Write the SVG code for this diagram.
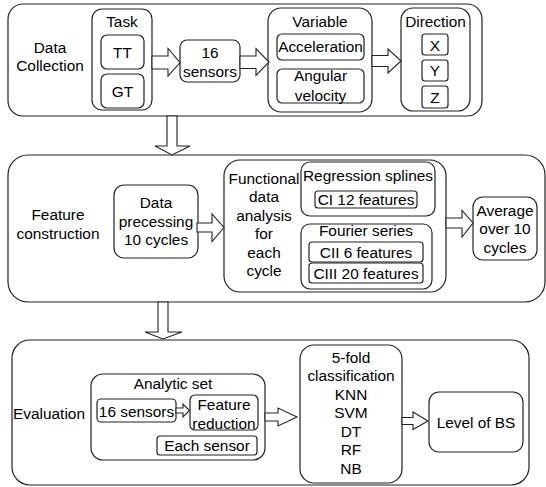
<svg xmlns="http://www.w3.org/2000/svg" width="546" height="487" viewBox="0 0 546 487">
<style>
rect{fill:#fff;stroke:#222;stroke-width:1.2}
.ar{fill:#fff;stroke:#222;stroke-width:1.1;stroke-linejoin:miter}
text{font-family:"Liberation Sans",Arial,sans-serif;font-size:15.4px;fill:#000;text-anchor:middle}
</style>
<rect width="546" height="487" style="fill:#fff;stroke:none"/>
<g id="panel-data-collection">
<rect x="8" y="4" width="474" height="112" rx="15"/>
<text x="50" y="52.5">Data</text>
<text x="50" y="70.5">Collection</text>
</g>
<g id="task">
<rect x="92" y="9" width="60" height="101" rx="10"/>
<text x="122" y="27">Task</text>
</g>
<g id="tt"><rect x="101" y="35" width="43" height="34" rx="6"/><text x="122.5" y="57.5">TT</text></g>
<g id="gt"><rect x="101" y="74" width="43" height="34" rx="6"/><text x="122.5" y="96.5">GT</text></g>
<g id="sensors16"><rect x="180" y="40" width="60" height="42" rx="7"/><text x="210" y="57.5">16</text><text x="210" y="76.5">sensors</text></g>
<g id="variable">
<rect x="268" y="8" width="104" height="104" rx="13"/>
<text x="320" y="26.5">Variable</text>
</g>
<g id="acceleration"><rect x="277" y="34" width="87" height="26" rx="5"/><text x="320.5" y="51.5">Acceleration</text></g>
<g id="angular"><rect x="277" y="69" width="87" height="34" rx="5"/><text x="320.5" y="80.5">Angular</text><text x="320.5" y="100.5">velocity</text></g>
<g id="direction">
<rect x="401" y="8" width="69" height="103" rx="12"/>
<text x="435.5" y="26.5">Direction</text>
</g>
<g id="dx"><rect x="422" y="34" width="26" height="21" rx="3"/><text x="435" y="50.5">X</text></g>
<g id="dy"><rect x="422" y="60" width="26" height="21" rx="3"/><text x="435" y="76">Y</text></g>
<g id="dz"><rect x="422" y="86" width="26" height="22" rx="3"/><text x="435" y="102.5">Z</text></g>

<g id="panel-feature-construction">
<rect x="8" y="155" width="537" height="147" rx="20"/>
<text x="58" y="219.5">Feature</text>
<text x="58" y="238.5">construction</text>
</g>
<g id="data-precessing"><rect x="114" y="185" width="84" height="73" rx="10"/>
<text x="156" y="208">Data</text><text x="156" y="226.5">precessing</text><text x="156" y="245">10 cycles</text></g>
<g id="functional"><rect x="224" y="160" width="222" height="132" rx="16"/>
<text x="264" y="183.5">Functional</text><text x="264" y="202">data</text><text x="264" y="220.5">analysis</text><text x="264" y="239">for</text><text x="264" y="257.5">each</text><text x="264" y="276">cycle</text></g>
<g id="regression"><rect x="301" y="162" width="134" height="54" rx="9"/><text x="368" y="180.5">Regression splines</text></g>
<g id="ci"><rect x="315" y="191" width="102" height="17" rx="3"/><text x="366" y="204.5">CI 12 features</text></g>
<g id="fourier"><rect x="301" y="224" width="131" height="65" rx="9"/><text x="366" y="235.5">Fourier series</text></g>
<g id="cii"><rect x="309" y="242" width="114" height="20" rx="3"/><text x="366" y="257.5">CII 6 features</text></g>
<g id="ciii"><rect x="309" y="263" width="114" height="20" rx="3"/><text x="366" y="278.5">CIII 20 features</text></g>
<g id="average"><rect x="473" y="197" width="64" height="63" rx="10"/>
<text x="505" y="215.5">Average</text><text x="505" y="233.5">over 10</text><text x="505" y="252.5">cycles</text></g>

<g id="panel-evaluation">
<rect x="12" y="340" width="517" height="145" rx="18"/>
<text x="49" y="418.5">Evaluation</text>
</g>
<g id="analytic-set"><rect x="91" y="374" width="174" height="86" rx="12"/><text x="173" y="388.5">Analytic set</text></g>
<g id="eval-sensors"><rect x="97" y="399" width="79" height="23" rx="4"/><text x="136.5" y="416.5">16 sensors</text></g>
<g id="feature-reduction"><rect x="190" y="395" width="68" height="35" rx="5"/><text x="224" y="409.5">Feature</text><text x="224" y="428.5">reduction</text></g>
<g id="each-sensor"><rect x="157" y="436" width="100" height="19" rx="3"/><text x="207" y="451">Each sensor</text></g>
<g id="classification"><rect x="300" y="345" width="102" height="138" rx="14"/>
<text x="351" y="362.5">5-fold</text><text x="351" y="381">classification</text><text x="351" y="399.5">KNN</text><text x="351" y="418">SVM</text><text x="351" y="436.5">DT</text><text x="351" y="455">RF</text><text x="351" y="473.5">NB</text></g>
<g id="level-bs"><rect x="429" y="392" width="94" height="60" rx="10"/><text x="476" y="427.5">Level of BS</text></g>

<g id="connectors">
<polygon class="ar" points="152,56 168,56 168,48.5 180,62.5 168,76 168,69 152,69"/>
<polygon class="ar" points="240,56 256,56 256,48.5 269,62 256,75.5 256,68.5 240,68.5"/>
<polygon class="ar" points="372,55.5 388,55.5 388,49 401,61 388,73 388,66.5 372,66.5"/>
<polygon class="ar" points="167,116 177,116 177,146 190,146 172,155 155,146 167,146"/>
<polygon class="ar" points="197,223 212,223 212,214 224,227.5 212,241.5 212,232 197,232"/>
<polygon class="ar" points="446,218 462,218 462,210.5 473,223 462,237 462,228 446,228"/>
<polygon class="ar" points="158,302 168,302 168,332 182,332 163,339 145,332 158,332"/>
<polygon class="ar" points="176,408 183,408 183,404 189.5,410.5 183,417 183,413 176,413"/>
<polygon class="ar" points="265,413 278,413 278,408 297,417 278,426 278,421 265,421"/>
<polygon class="ar" points="402,417.5 413,417.5 413,412 428,421 413,429.5 413,424.5 402,424.5"/>
</g>
</svg>
